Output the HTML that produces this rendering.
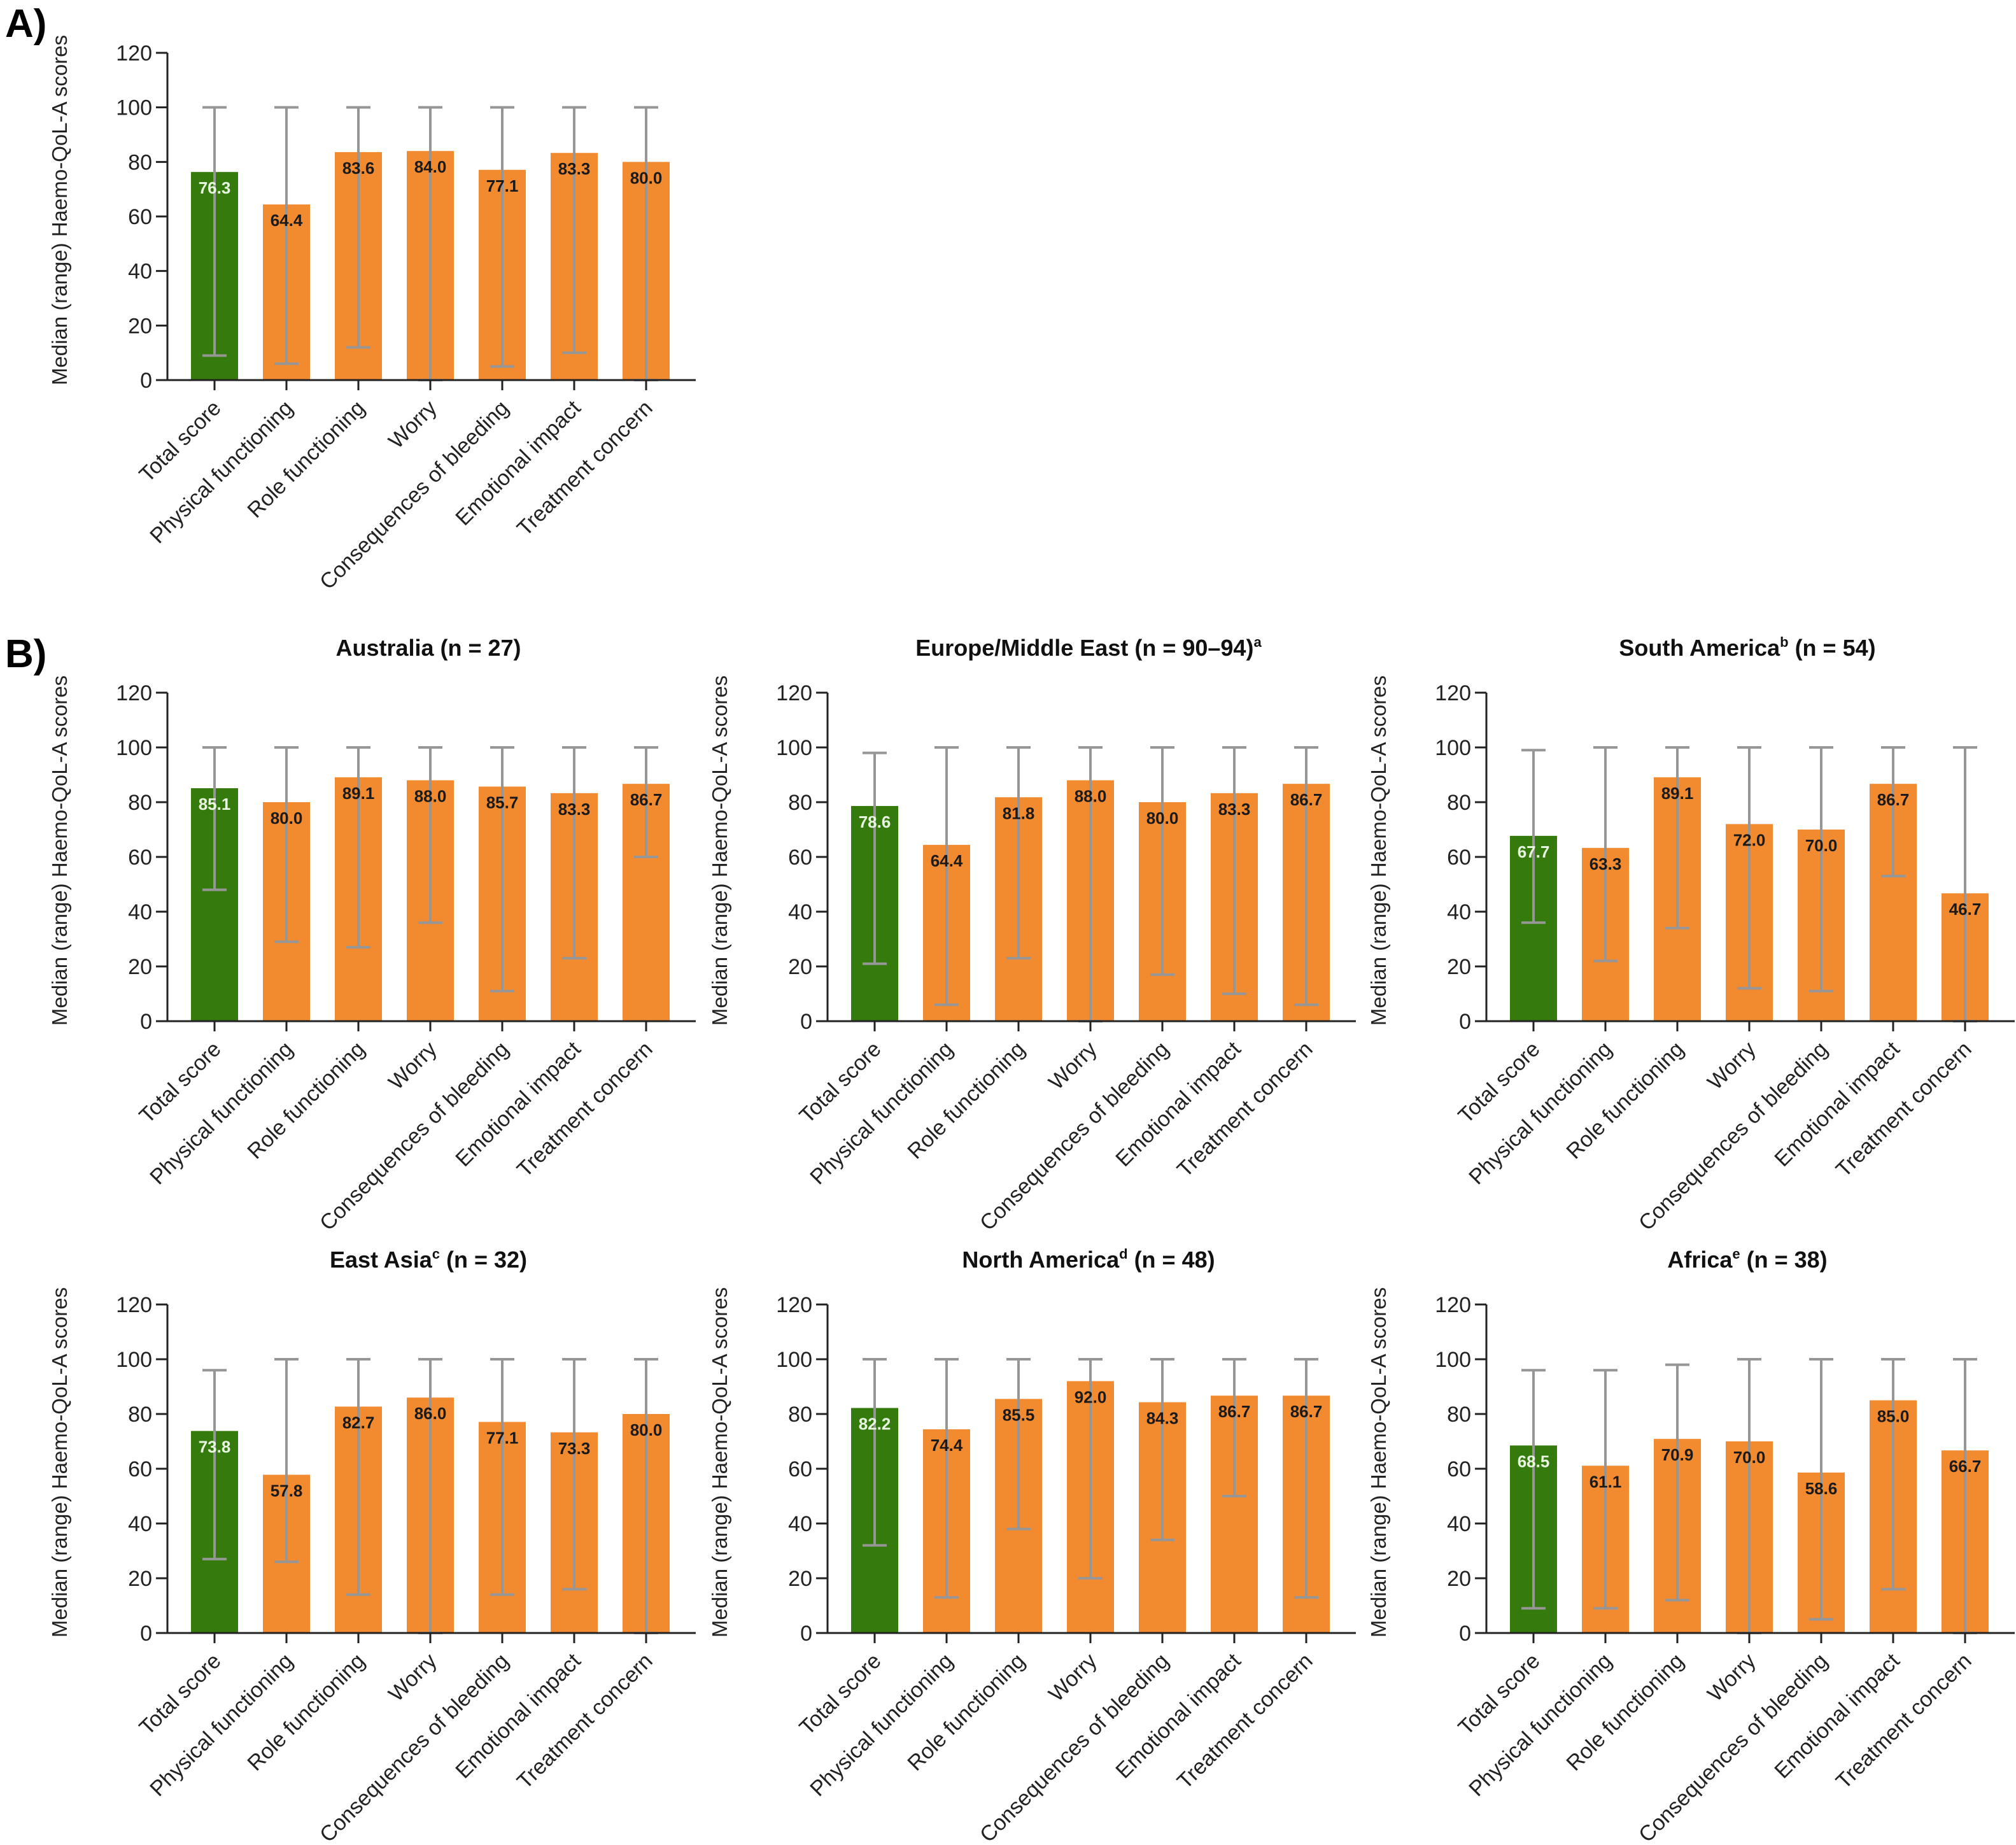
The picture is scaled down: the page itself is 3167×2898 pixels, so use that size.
<!DOCTYPE html>
<html><head><meta charset="utf-8">
<style>
html,body{margin:0;padding:0;background:#fff;}
svg{display:block;font-family:"Liberation Sans",Arial,sans-serif;}
</style></head>
<body>
<svg id="fig" width="3167" height="2898" viewBox="0 0 3167 2898" xmlns="http://www.w3.org/2000/svg">
<text x="8" y="58" font-size="62" font-weight="bold">A)</text>
<text x="8" y="1048" font-size="62" font-weight="bold">B)</text>
</svg>
<script>
const categories = ["Total score","Physical functioning","Role functioning","Worry","Consequences of bleeding","Emotional impact","Treatment concern"];
const yTicks = [0,20,40,60,80,100,120];
const panelTitles = ["", "Australia (n = 27)", "Europe/Middle East (n = 90–94)", "South America (n = 54)", "East Asia (n = 32)", "North America (n = 48)", "Africa (n = 38)"];
const titleSup = ["", "", "a", "b", "c", "d", "e"];
const medAll = [76.3,64.4,83.6,84.0,77.1,83.3,80.0];
const loAll = [9,6,12,0,5,10,0];
const hiAll = [100,100,100,100,100,100,100];
const medAus = [85.1,80.0,89.1,88.0,85.7,83.3,86.7];
const loAus = [48,29,27,36,11,23,60];
const hiAus = [100,100,100,100,100,100,100];
const medEur = [78.6,64.4,81.8,88.0,80.0,83.3,86.7];
const loEur = [21,6,23,0,17,10,6];
const hiEur = [98,100,100,100,100,100,100];
const medSAm = [67.7,63.3,89.1,72.0,70.0,86.7,46.7];
const loSAm = [36,22,34,12,11,53,0];
const hiSAm = [99,100,100,100,100,100,100];
const medEAs = [73.8,57.8,82.7,86.0,77.1,73.3,80.0];
const loEAs = [27,26,14,0,14,16,0];
const hiEAs = [96,100,100,100,100,100,100];
const medNAm = [82.2,74.4,85.5,92.0,84.3,86.7,86.7];
const loNAm = [32,13,38,20,34,50,13];
const hiNAm = [100,100,100,100,100,100,100];
const medAfr = [68.5,61.1,70.9,70.0,58.6,85.0,66.7];
const loAfr = [9,9,12,0,5,16,0];
const hiAfr = [96,96,98,100,100,100,100];

const NS="http://www.w3.org/2000/svg";
const svg=document.getElementById('fig');
function el(tag,attrs,parent){const e=document.createElementNS(NS,tag);for(const k in attrs)e.setAttribute(k,attrs[k]);(parent||svg).appendChild(e);return e;}

const panels=[
 {ax:263,y0:597,y120:83,med:medAll,lo:loAll,hi:hiAll,name:'overall'},
 {ax:263,y0:1604,y120:1088,med:medAus,lo:loAus,hi:hiAus,name:'australia'},
 {ax:1300,y0:1604,y120:1088,med:medEur,lo:loEur,hi:hiEur,name:'europe-middle-east'},
 {ax:2335,y0:1604,y120:1088,med:medSAm,lo:loSAm,hi:hiSAm,name:'south-america'},
 {ax:263,y0:2565,y120:2049,med:medEAs,lo:loEAs,hi:hiEAs,name:'east-asia'},
 {ax:1300,y0:2565,y120:2049,med:medNAm,lo:loNAm,hi:hiNAm,name:'north-america'},
 {ax:2335,y0:2565,y120:2049,med:medAfr,lo:loAfr,hi:hiAfr,name:'africa'}
];
panels.forEach((p,pi)=>{
  const g=el('g',{});
  
  
  const ys=v=>p.y0-(v/120)*(p.y0-p.y120);
  const step=113, first=p.ax+74, bw=74;
  const xs=i=>first+i*step;
  const axEnd=p.ax+830;
  if(panelTitles[pi]){
    const t=el('text',{x:p.ax+410,y:p.y120-58,'font-size':36,'font-weight':'bold','text-anchor':'middle',fill:'#111'},g);
    
    
    const title=panelTitles[pi];
    const idx=title.indexOf(' (');
    if(titleSup[pi] && pi!==2){
      t.appendChild(document.createTextNode(title.slice(0,idx)));
      const s=el('tspan',{'font-size':22,dy:-14},t);s.textContent=titleSup[pi];
      const r=el('tspan',{dy:14},t);r.textContent=title.slice(idx);
    } else if(titleSup[pi]){
      t.appendChild(document.createTextNode(title));
      const s=el('tspan',{'font-size':22,dy:-14},t);s.textContent=titleSup[pi];
    } else t.textContent=title;
  }
  p.med.forEach((v,i)=>{
    const r=el('rect',{x:xs(i)-bw/2,y:ys(v),width:bw,height:ys(0)-ys(v),fill:i===0?'#347A0C':'#F28A30'},g);
    
    
  });
  p.med.forEach((v,i)=>{
    const e=el('g',{stroke:'#969696','stroke-width':4,fill:'none'},g);
    
    
    el('line',{x1:xs(i),x2:xs(i),y1:ys(p.hi[i]),y2:ys(p.lo[i])},e);
    el('line',{x1:xs(i)-19,x2:xs(i)+19,y1:ys(p.hi[i]),y2:ys(p.hi[i])},e);
    el('line',{x1:xs(i)-19,x2:xs(i)+19,y1:ys(p.lo[i]),y2:ys(p.lo[i])},e);
  });
  p.med.forEach((v,i)=>{
    const t=el('text',{x:xs(i),y:ys(v)+34,'font-size':26,'font-weight':'bold','text-anchor':'middle',fill:i===0?'#e8f5e0':'#1a1a1a'},g);
    
    
    t.textContent=v.toFixed(1);
  });
  const ya=el('line',{x1:p.ax,x2:p.ax,y1:p.y120,y2:p.y0,stroke:'#222','stroke-width':3},g);
  
  
  const xa=el('line',{x1:p.ax-18,x2:axEnd,y1:p.y0,y2:p.y0,stroke:'#222','stroke-width':3},g);
  
  
  yTicks.forEach(v=>{
    el('line',{x1:p.ax-18,x2:p.ax,y1:ys(v),y2:ys(v),stroke:'#222','stroke-width':3},g);
    const t=el('text',{x:p.ax-24,y:ys(v)+12,'font-size':34,'text-anchor':'end',fill:'#222'},g);
    
    
    t.textContent=v;
  });
  categories.forEach((c,i)=>{
    el('line',{x1:xs(i),x2:xs(i),y1:p.y0,y2:p.y0+16,stroke:'#222','stroke-width':3},g);
    const lx=xs(i)+12, ly=p.y0+46;
    const t=el('text',{x:lx,y:ly,'font-size':34,'text-anchor':'end',fill:'#222',transform:`rotate(-45 ${lx} ${ly})`},g);
    
    
    t.textContent=c;
  });
  const cy=(p.y0+p.y120)/2 - 10;
  const tx=p.ax-158;
  const at=el('text',{x:tx,y:cy,'font-size':33,'text-anchor':'middle',fill:'#222',transform:`rotate(-90 ${tx} ${cy})`},g);
  
  
  at.textContent='Median (range) Haemo-QoL-A scores';
});
</script>
</body></html>
